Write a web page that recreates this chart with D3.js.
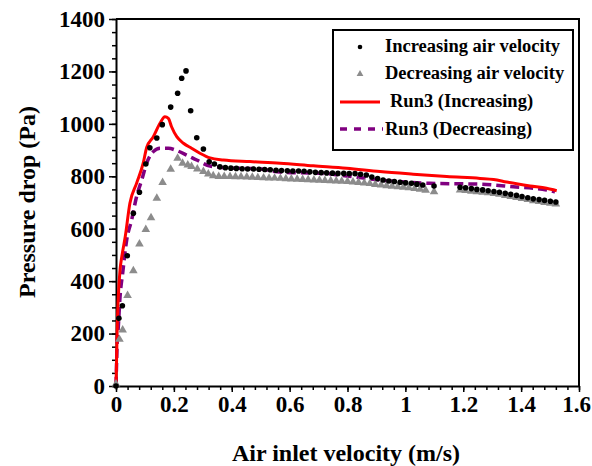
<!DOCTYPE html>
<html>
<head>
<meta charset="utf-8">
<script src="https://cdn.jsdelivr.net/npm/d3@7"></script>
<style>
  html, body { margin: 0; padding: 0; background: #fff; }
  svg { display: block; }
  text { font-family: "Liberation Serif", "Times New Roman", serif; font-weight: bold; fill: #000; }
</style>
</head>
<body>
<svg id="chart" width="592" height="466"></svg>
<script>
// ---------- data ----------
const xTicks = [0, 0.2, 0.4, 0.6, 0.8, 1.0, 1.2, 1.4, 1.6];
const yTicks = [0, 200, 400, 600, 800, 1000, 1200, 1400];
const xTickLabels = ["0", "0.2", "0.4", "0.6", "0.8", "1", "1.2", "1.4", "1.6"];
const yTickLabels = ["0", "200", "400", "600", "800", "1000", "1200", "1400"];

const seriesNames = ["Increasing air velocity", "Decreasing air velocity", "Run3 (Increasing)", "Run3 (Decreasing)"];

// Experimental: increasing air velocity (black dots)
const incV = [0, 0.010, 0.022, 0.039, 0.060, 0.081, 0.103, 0.117, 0.141, 0.160, 0.189, 0.213, 0.227, 0.242,
  0.258, 0.279, 0.302, 0.322, 0.340, 0.359, 0.378, 0.397, 0.416, 0.436, 0.455, 0.475, 0.494, 0.514, 0.533,
  0.553, 0.572, 0.592, 0.611, 0.631, 0.650, 0.670, 0.689, 0.709, 0.728, 0.748, 0.767, 0.787, 0.806, 0.826,
  0.845, 0.865, 0.884, 0.904, 0.923, 0.943, 0.962, 0.982, 1.001, 1.021, 1.040, 1.060, 1.099,
  1.189, 1.208, 1.228, 1.247, 1.267, 1.286, 1.306, 1.325, 1.345, 1.364, 1.384, 1.403, 1.423, 1.442, 1.462,
  1.481, 1.501, 1.520];
const incP = [0, 258, 306, 497, 659, 739, 847, 909, 946, 997, 1064, 1117, 1174, 1202,
  1050, 947, 904, 855, 847, 836, 833, 831, 830, 829, 828, 828, 827, 826, 825,
  823, 822, 821, 820, 820, 819, 817, 815, 814, 813, 812, 811, 811, 810, 810,
  808, 805, 797, 791, 786, 782, 780, 777, 775, 773, 770, 767, 763,
  758, 756, 753, 750, 748, 745, 742, 739, 735, 731, 727, 723, 718, 714, 711,
  708, 705, 702];

// Experimental: decreasing air velocity (grey triangles)
const decV = [0, 0.012, 0.023, 0.040, 0.060, 0.081, 0.103, 0.121, 0.141, 0.161, 0.189, 0.213, 0.230, 0.248,
  0.261, 0.281, 0.302, 0.319, 0.336, 0.355, 0.374, 0.394, 0.413, 0.432, 0.452, 0.471, 0.490, 0.510, 0.529,
  0.548, 0.568, 0.587, 0.606, 0.626, 0.645, 0.664, 0.684, 0.703, 0.722, 0.742, 0.761, 0.780, 0.800, 0.819,
  0.838, 0.858, 0.877, 0.896, 0.916, 0.935, 0.954, 0.974, 0.993, 1.012, 1.032, 1.051, 1.070, 1.099,
  1.189, 1.208, 1.228, 1.247, 1.267, 1.286, 1.306, 1.325, 1.345, 1.364, 1.384, 1.403, 1.423, 1.442, 1.462,
  1.481, 1.501, 1.520];
const decP = [8, 178, 214, 345, 440, 542, 597, 642, 716, 776, 827, 869, 850, 843,
  837, 828, 818, 809, 802, 799, 799, 799, 798, 798, 797, 796, 795, 794, 793,
  793, 792, 791, 790, 789, 788, 787, 786, 785, 784, 783, 782, 781, 780, 778,
  776, 774, 772, 769, 767, 764, 762, 760, 758, 756, 753, 750, 747, 741,
  748, 746, 743, 741, 739, 737, 734, 731, 727, 723, 719, 715, 711, 707, 704,
  700, 697, 694];

// Run3 model, increasing (red solid)
const run3IncV = [0, 0.002, 0.004, 0.008, 0.014, 0.020, 0.032, 0.048, 0.071, 0.094, 0.106, 0.129, 0.152,
  0.169, 0.181, 0.192, 0.210, 0.233, 0.261, 0.290, 0.325, 0.371, 0.463, 0.567, 0.682, 0.797, 0.912,
  1.027, 1.143, 1.258, 1.305, 1.350, 1.431, 1.488, 1.523];
const run3IncP = [0, 100, 214, 341, 443, 493, 570, 697, 773, 850, 910, 951, 1002,
  1027, 1021, 989, 951, 926, 907, 888, 870, 862, 856, 850, 840, 831, 818,
  808, 799, 792, 788, 778, 763, 754, 745];

// Run3 model, decreasing (purple dashed)
const run3DecV = [0, 0.002, 0.004, 0.008, 0.014, 0.023, 0.037, 0.054, 0.071, 0.089, 0.106, 0.129, 0.152,
  0.181, 0.210, 0.244, 0.279, 0.325, 0.405, 0.486, 0.567, 0.716, 0.797, 0.912, 1.085, 1.258, 1.373,
  1.488, 1.517];
const run3DecP = [0, 86, 163, 226, 341, 430, 557, 633, 722, 786, 850, 894, 907,
  907, 898, 881, 862, 839, 831, 829, 816, 811, 801, 786, 773, 770, 760,
  748, 741];

// ---------- drawing ----------
const svg = d3.select("#chart");
const x = d3.scaleLinear().domain([0, 1.6]).range([116, 579]);
const y = d3.scaleLinear().domain([0, 1400]).range([386, 19]);

const RED = "#ff0000", PURPLE = "#800080", GREY = "#8c8c8c";

// frame (top and right)
svg.append("path")
  .attr("d", `M${x(0)},${y(1400)}H${x(1.6)}V${y(0)}`)
  .attr("fill", "none").attr("stroke", "#000").attr("stroke-width", 2);

// minor ticks
const yMinor = d3.range(0, 1401, 50);
const xMinor = d3.range(0, 41).map(i => i * 0.04);
svg.append("g").attr("transform", `translate(${x(0)},0)`)
  .call(d3.axisLeft(y).tickValues(yMinor).tickSize(4).tickSizeOuter(0).tickFormat(""))
  .call(g => g.select(".domain").remove())
  .call(g => g.selectAll("line").attr("stroke-width", 1.5));
svg.append("g").attr("transform", `translate(0,${y(0)})`)
  .call(d3.axisBottom(x).tickValues(xMinor).tickSize(4).tickSizeOuter(0).tickFormat(""))
  .call(g => g.select(".domain").remove())
  .call(g => g.selectAll("line").attr("stroke-width", 1.5));

// major axes
const yAxis = svg.append("g").attr("transform", `translate(${x(0)},0)`)
  .call(d3.axisLeft(y).tickValues(yTicks).tickSize(7).tickSizeOuter(0).tickPadding(4)
    .tickFormat((d, i) => yTickLabels[i]));
yAxis.select(".domain").attr("stroke-width", 2);
yAxis.selectAll("line").attr("stroke-width", 1.5);
yAxis.selectAll("text").attr("font-size", 23).attr("font-family", "Liberation Serif").attr("font-weight", "bold");

const xAxis = svg.append("g").attr("transform", `translate(0,${y(0)})`)
  .call(d3.axisBottom(x).tickValues(xTicks).tickSize(6).tickSizeOuter(0).tickPadding(4)
    .tickFormat((d, i) => xTickLabels[i]));
xAxis.select(".domain").attr("stroke-width", 2);
xAxis.selectAll("line").attr("stroke-width", 1.5);
xAxis.selectAll("text").attr("font-size", 23).attr("font-family", "Liberation Serif").attr("font-weight", "bold")
  .attr("dx", (d, i) => i === xTicks.length - 1 ? -3 : 0);

// axis titles
svg.append("text")
  .attr("x", 346).attr("y", 461).attr("text-anchor", "middle")
  .attr("font-size", 24).text("Air inlet velocity (m/s)");
svg.append("text")
  .attr("transform", "translate(35,202) rotate(-90)").attr("text-anchor", "middle")
  .attr("font-size", 24).text("Pressure drop (Pa)");

// lines
const line = d3.line().x(d => x(d[0])).y(d => y(d[1])).curve(d3.curveMonotoneX);
svg.append("path").datum(run3DecV.map((v, i) => [v, run3DecP[i]]))
  .attr("d", line).attr("fill", "none").attr("stroke", PURPLE)
  .attr("stroke-width", 3.5).attr("stroke-dasharray", "9,5");
svg.append("path").datum(run3IncV.map((v, i) => [v, run3IncP[i]]))
  .attr("d", line).attr("fill", "none").attr("stroke", RED).attr("stroke-width", 3);

// markers
const tri = d3.symbol().type(d3.symbolTriangle).size(32);
svg.append("g").selectAll("path").data(decV.map((v, i) => [v, decP[i]])).join("path")
  .attr("d", tri).attr("fill", GREY)
  .attr("transform", d => `translate(${x(d[0])},${y(d[1])})`);
svg.append("g").selectAll("circle").data(incV.map((v, i) => [v, incP[i]])).join("circle")
  .attr("cx", d => x(d[0])).attr("cy", d => y(d[1])).attr("r", 2.8).attr("fill", "#000");

// legend
const lg = svg.append("g");
lg.append("rect").attr("x", 333).attr("y", 30).attr("width", 240).attr("height", 120)
  .attr("fill", "#fff").attr("stroke", "#000").attr("stroke-width", 2);
const rowsY = [52, 79, 107, 135];
lg.append("circle").attr("cx", 360).attr("cy", rowsY[0] - 5).attr("r", 2.3).attr("fill", "#000");
lg.append("path").attr("d", d3.symbol().type(d3.symbolTriangle).size(20))
  .attr("fill", GREY).attr("transform", `translate(360,${rowsY[1] - 5})`);
lg.append("line").attr("x1", 340).attr("x2", 380).attr("y1", rowsY[2] - 5).attr("y2", rowsY[2] - 5)
  .attr("stroke", RED).attr("stroke-width", 3);
lg.append("line").attr("x1", 340).attr("x2", 383).attr("y1", rowsY[3] - 6).attr("y2", rowsY[3] - 6)
  .attr("stroke", PURPLE).attr("stroke-width", 3.5).attr("stroke-dasharray", "7,7");
const textX = [385, 385, 390, 385];
seriesNames.forEach((s, i) => {
  lg.append("text").attr("x", textX[i]).attr("y", rowsY[i]).attr("font-size", 18.5).text(s);
});
</script>
</body>
</html>
